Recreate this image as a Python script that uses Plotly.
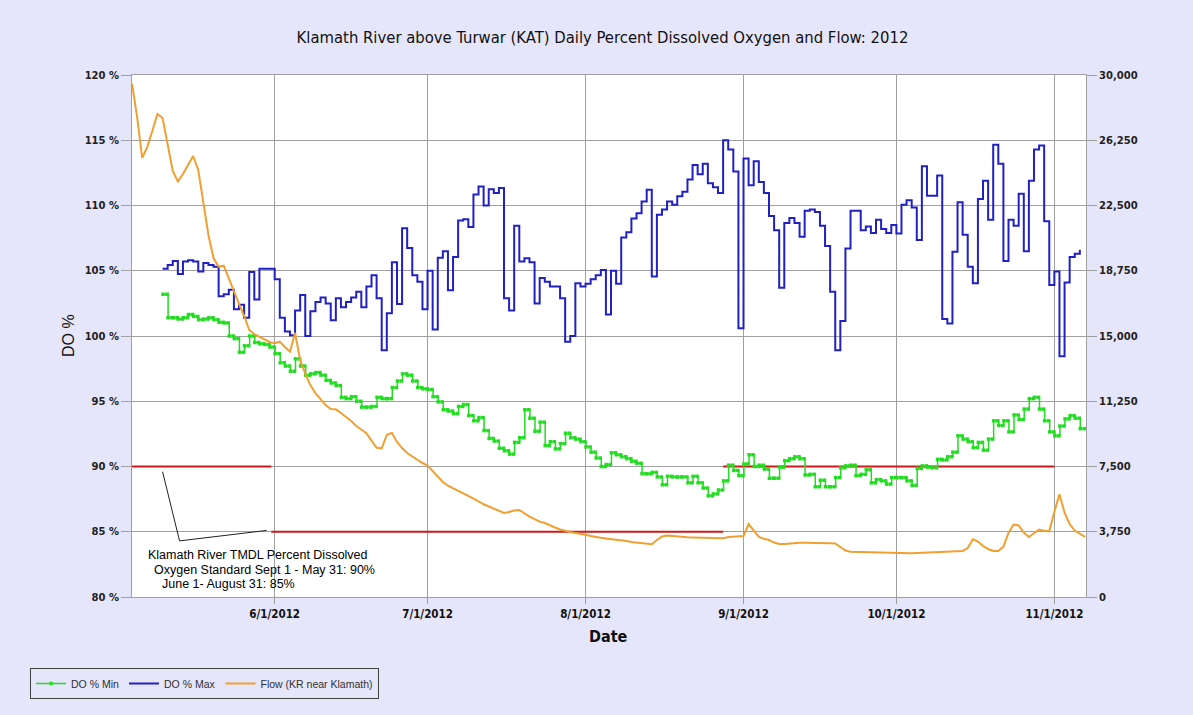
import plotly.graph_objects as go
import pandas as pd

# ---------------- data ----------------
do_start = "2012-05-10"
do_max = [
    105.15, 105.45, 105.75, 104.75, 105.7, 105.8, 105.7, 104.95, 105.6, 105.45,
    105.3, 103.05, 103.2, 103.55, 102.05, 102.4, 101.4, 104.9, 102.8, 105.15,
    105.15, 105.15, 104.35, 101.4, 100.35, 100.05, 101.95, 103.15, 100.0, 101.9,
    102.6, 102.95, 102.5, 101.2, 102.9, 102.2, 102.6, 102.95, 103.4, 102.2,
    103.8, 104.65, 102.9, 98.9, 101.75, 105.65, 102.45, 108.25, 106.75, 104.65,
    104.15, 102.05, 105.0, 100.5, 106.0, 106.5, 103.5, 106.05, 108.85, 108.95,
    108.35, 110.85, 111.45, 110.0, 111.25, 110.95, 111.35, 102.9, 101.95, 108.45,
    105.7, 105.95, 105.65, 102.5, 104.45, 104.15, 103.8, 103.8, 102.9, 99.55,
    100.0, 104.05, 103.8, 104.0, 104.35, 104.65, 105.05, 101.65, 105.0, 104.0,
    107.55, 107.95, 109.0, 109.4, 110.3, 111.2, 104.55, 109.3, 109.7, 110.3,
    110.05, 110.7, 111.05, 112.0, 113.1, 112.4, 113.2, 111.7, 111.4, 110.95,
    115.0, 114.3, 112.6, 100.6, 113.6, 111.55, 113.4, 111.8, 110.95, 109.2,
    108.1, 103.7, 108.65, 109.05, 108.65, 107.6, 109.6, 109.7, 109.5, 108.45,
    106.9, 103.4, 98.9, 101.15, 106.7, 109.6, 109.6, 108.1, 108.4, 107.9,
    108.9, 108.2, 107.9, 108.5, 107.85, 110.05, 110.4, 109.85, 107.35, 113.0,
    110.75, 110.75, 112.3, 101.3, 100.95, 106.45, 110.25, 107.75, 105.3, 104.05,
    110.5, 111.9, 108.9, 114.65, 113.2, 105.75, 108.9, 108.45, 110.9, 106.5,
    111.9, 114.3, 114.6, 108.8, 103.9, 104.95, 98.45, 104.1, 106.05, 106.3,
    106.6,
]
do_min = [
    103.2, 101.4, 101.4, 101.3, 101.4, 101.65, 101.5, 101.25, 101.3, 101.4,
    101.25, 101.05, 101.0, 100.0, 99.8, 98.75, 99.25, 100.0, 99.5, 99.4,
    99.35, 99.15, 98.65, 97.95, 97.7, 97.3, 98.25, 97.7, 97.0, 97.1,
    97.2, 97.0, 96.6, 96.4, 96.2, 95.3, 95.2, 95.35, 95.0, 94.55,
    94.55, 94.6, 95.3, 95.2, 95.2, 96.05, 96.55, 97.1, 97.0, 96.55,
    96.05, 95.95, 95.9, 95.35, 94.95, 94.35, 94.25, 94.05, 94.6, 94.75,
    93.9, 93.5, 93.75, 92.75, 92.15, 91.95, 91.4, 91.2, 90.95, 91.85,
    92.2, 94.35, 93.7, 92.7, 93.4, 91.6, 91.9, 91.35, 91.75, 92.55,
    92.2, 92.1, 91.9, 91.5, 91.1, 90.65, 90.0, 90.15, 91.05, 90.9,
    90.75, 90.6, 90.4, 90.25, 89.45, 89.45, 89.55, 89.2, 88.6, 89.25,
    89.2, 89.2, 89.2, 88.75, 89.25, 88.75, 88.35, 87.75, 87.9, 88.2,
    88.9, 90.1, 89.7, 89.3, 90.2, 90.9, 90.0, 90.1, 89.8, 89.1,
    89.1, 89.95, 90.45, 90.6, 90.75, 90.6, 89.35, 89.4, 88.45, 88.95,
    88.45, 88.45, 89.15, 89.9, 90.05, 90.1, 89.3, 89.4, 89.75, 88.75,
    89.0, 88.9, 88.65, 89.15, 89.15, 89.15, 88.9, 88.55, 89.85, 90.05,
    89.95, 89.9, 90.55, 90.5, 90.75, 91.1, 92.35, 92.1, 91.9, 91.45,
    91.85, 91.25, 92.1, 93.5, 93.15, 93.5, 92.65, 93.95, 93.6, 94.4,
    95.2, 95.3, 94.4, 93.5, 92.65, 92.35, 93.1, 93.65, 93.9, 93.7,
    92.9,
]
flow_start = "2012-05-04"
flow = [
    29500, 27590, 25230, 25870, 26800, 27760, 27530, 26090, 24480, 23880,
    24310, 24830, 25345, 24540, 22700, 20800, 19480, 18980, 19040, 18275,
    17500, 16840, 16150, 15345, 15100, 14940, 14800, 14655, 14580, 14670,
    14370, 14100, 15170, 13620, 12820, 12180, 11720, 11380, 11030, 10800,
    10785, 10575, 10345, 10115, 9830, 9600, 9410, 8990, 8580, 8545,
    9310, 9440, 8910, 8560, 8275, 8075, 7875, 7700, 7560, 7240,
    6950, 6610, 6395, 6265, 6090, 5960, 5805, 5630, 5490, 5330,
    5200, 5085, 4940, 4830, 4885, 4970, 5000, 4800, 4625, 4480,
    4330, 4250, 4110, 3995, 3880, 3790, 3735, 3680, 3640, 3580,
    3505, 3435, 3400, 3360, 3330, 3315, 3275, 3220, 3160, 3120,
    3075, 3045, 3030, 3275, 3475, 3535, 3505, 3460, 3450, 3435,
    3425, 3420, 3410, 3395, 3390, 3380, 3370, 3450, 3465, 3490,
    3505, 4195, 3790, 3450, 3350, 3275, 3130, 3045, 3045, 3075,
    3100, 3120, 3120, 3105, 3100, 3100, 3090, 3085, 3075, 2875,
    2670, 2600, 2590, 2575, 2570, 2560, 2545, 2530, 2525, 2520,
    2510, 2510, 2510, 2510, 2525, 2540, 2560, 2570, 2575, 2590,
    2600, 2615, 2630, 2650, 2815, 3315, 3190, 2930, 2760, 2645,
    2645, 2900, 3680, 4165, 4110, 3705, 3450, 3680, 3880, 3805,
    3775, 4900, 5900, 4850, 4195, 3820, 3620, 3450,
]
std_90_early_x = ["2012-05-04", "2012-05-31 08:00"]
std_90_early_y = [90, 90]
std_85_x = ["2012-05-31 08:00", "2012-08-28"]
std_85_y = [85, 85]
std_90_late_x = ["2012-08-28", "2012-11-01"]
std_90_late_y = [90, 90]

month_ticks = ["2012-06-01", "2012-07-01", "2012-08-01", "2012-09-01", "2012-10-01", "2012-11-01"]
month_labels = ["6/1/2012", "7/1/2012", "8/1/2012", "9/1/2012", "10/1/2012", "11/1/2012"]
do_ticks = [80, 85, 90, 95, 100, 105, 110, 115, 120]
do_tick_labels = ["80 %", "85 %", "90 %", "95 %", "100 %", "105 %", "110 %", "115 %", "120 %"]
flow_ticks = [0, 3750, 7500, 11250, 15000, 18750, 22500, 26250, 30000]

# ---------------- figure ----------------
BG = "#E6E6FA"
GRID = "#A0A0A0"
NARROW = "DejaVu Sans Condensed, Liberation Sans Narrow, Arial Narrow, sans-serif"
TICKF = "DejaVu Sans, Verdana, sans-serif"
ARIAL = "Liberation Sans, Arial, sans-serif"

do_dates = pd.date_range(do_start, periods=len(do_max), freq="D")
flow_dates = pd.date_range(flow_start, periods=len(flow), freq="D")

# DO min drawn as daily steps with a marker at each end of every step
min_x, min_y = [], []
for d, v in zip(do_dates, do_min):
    min_x += [d + pd.Timedelta(hours=2), d + pd.Timedelta(hours=21)]
    min_y += [v, v]

fig = go.Figure()
for xs, ys in [(std_90_early_x, std_90_early_y), (std_85_x, std_85_y), (std_90_late_x, std_90_late_y)]:
    fig.add_trace(go.Scatter(x=xs, y=ys, mode="lines", line=dict(color="#D01818", width=2),
                             showlegend=False, hoverinfo="skip"))

fig.add_trace(go.Scatter(x=min_x, y=min_y, mode="lines+markers", name="DO % Min",
                         line=dict(color="#22DD22", width=1.5, shape="hv"),
                         marker=dict(symbol="square", size=3.5, color="#22DD22")))
fig.add_trace(go.Scatter(x=do_dates, y=do_max, mode="lines", name="DO % Max",
                         line=dict(color="#2020C4", width=2, shape="hv")))
fig.add_trace(go.Scatter(x=flow_dates, y=flow, mode="lines", name="Flow (KR near Klamath)",
                         line=dict(color="#F0A030", width=2), yaxis="y2"))

fig.update_layout(
    width=1193, height=715, autosize=False,
    paper_bgcolor=BG, plot_bgcolor="white",
    margin=dict(l=132, r=107, t=75, b=118),
    title=dict(text="Klamath River above Turwar (KAT) Daily Percent Dissolved Oxygen and Flow: 2012",
               x=0.505, xref="container", xanchor="center",
               y=1 - 37 / 715, yref="container", yanchor="middle",
               font=dict(family=NARROW, size=16.5, color="#111111")),
    xaxis=dict(type="date", range=["2012-05-04", "2012-11-07 05:00"],
               tickvals=month_ticks, ticktext=month_labels,
               showgrid=True, gridcolor=GRID, gridwidth=1,
               ticks="outside", ticklen=6, tickcolor=GRID,
               showline=True, linecolor=GRID, linewidth=1, mirror=True,
               tickfont=dict(family=NARROW, size=11.5, color="#111111", weight="bold")),
    yaxis=dict(range=[80, 120], tickvals=do_ticks, ticktext=do_tick_labels,
               showgrid=True, gridcolor=GRID, gridwidth=1, zeroline=False,
               ticks="outside", ticklen=10, tickcolor=GRID,
               showline=True, linecolor=GRID, linewidth=1,
               tickfont=dict(family=TICKF, size=10, color="#222222", weight="bold")),
    yaxis2=dict(range=[0, 30000], tickvals=flow_ticks, tickformat=",",
                overlaying="y", side="right", showgrid=False, zeroline=False,
                ticks="outside", ticklen=10, tickcolor=GRID,
                showline=True, linecolor=GRID, linewidth=1,
                tickfont=dict(family=TICKF, size=10, color="#222222", weight="bold")),
    legend=dict(orientation="h", x=(30 - 132) / 954, y=(597 - 668) / 522,
                xanchor="left", yanchor="top", bgcolor=BG,
                bordercolor="#404040", borderwidth=1,
                font=dict(family=ARIAL, size=10.5, color="#303030")),
    showlegend=True,
)

annots = [
    dict(text="Date", x=(608 - 132) / 954, y=(597 - 636) / 522, xanchor="center", yanchor="middle",
         font=dict(family=NARROW, size=16, color="#111111", weight="bold")),
    dict(text="DO %", x=(68 - 132) / 954, y=0.5, xanchor="center", yanchor="middle", textangle=-90,
         font=dict(family=ARIAL, size=16, color="#111111")),
    dict(text="Klamath River TMDL Percent Dissolved", x=(146 - 132) / 954, y=(597 - 555) / 522,
         xanchor="left", yanchor="middle", font=dict(family=ARIAL, size=12.5, color="#000000")),
    dict(text="Oxygen Standard Sept 1 - May 31: 90%", x=(151.7 - 132) / 954, y=(597 - 570) / 522,
         xanchor="left", yanchor="middle", font=dict(family=ARIAL, size=12.5, color="#000000")),
    dict(text="June 1- August 31: 85%", x=(160 - 132) / 954, y=(597 - 584) / 522,
         xanchor="left", yanchor="middle", font=dict(family=ARIAL, size=12.5, color="#000000")),
]
for a in annots:
    fig.add_annotation(xref="paper", yref="paper", showarrow=False, **a)

# callout leader lines
fig.add_shape(type="line", xref="x", yref="y", x0="2012-05-10", y0=89.6, x1="2012-05-13 08:00", y1=84.3,
              line=dict(color="#202020", width=1))
fig.add_shape(type="line", xref="x", yref="y", x0="2012-05-13 08:00", y0=84.3, x1="2012-05-30 10:00", y1=85.1,
              line=dict(color="#202020", width=1))

fig.write_html("out.html", config={"displayModeBar": False},
               post_script="document.body.style.margin='0';")
